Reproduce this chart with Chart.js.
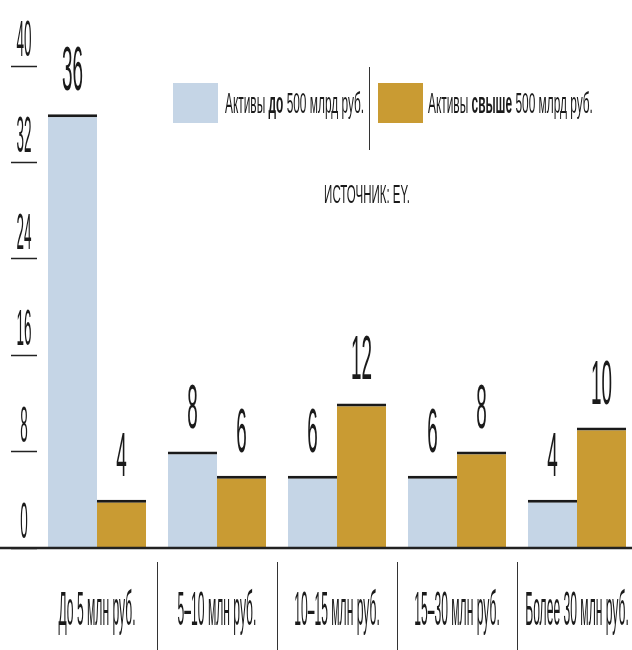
<!DOCTYPE html>
<html>
<head>
<meta charset="utf-8">
<script src="https://cdn.jsdelivr.net/npm/chart.js@4"></script>
<style>
  html, body { margin: 0; padding: 0; overflow: hidden; background: #fff; }
  #wrap { width: 640px; height: 650px; }
</style>
</head>
<body>
<div id="wrap"><canvas id="chart"></canvas></div>
<script>
const categories = ['До 5 млн руб.', '5–10 млн руб.', '10–15 млн руб.', '15–30 млн руб.', 'Более 30 млн руб.'];
const smallBanks = [36, 8, 6, 6, 4];
const bigBanks = [4, 6, 12, 8, 10];
const yTicks = [0, 8, 16, 24, 32, 40];
const seriesNames = ['Активы до 500 млрд руб.', 'Активы свыше 500 млрд руб.'];

const BLUE = '#c5d5e6';
const GOLD = '#c99b33';
const INK = '#1a1a1a';
const FONT = '"Liberation Sans", Arial, sans-serif';

// condensed text: draw normally then squeeze horizontally
function squeezed(ctx, s, x, y, size, sx, align, weight) {
    ctx.save();
    ctx.font = (weight || 'normal') + ' ' + size + 'px ' + FONT;
    ctx.fillStyle = INK;
    ctx.textBaseline = 'alphabetic';
    ctx.textAlign = align || 'center';
    ctx.translate(x, y);
    ctx.scale(sx, 1);
    ctx.fillText(s, 0, 0);
    const w = ctx.measureText(s).width * sx;
    ctx.restore();
    return w;
}

function runs(ctx, parts, x, y, size, sx) {
    let cx = x;
    parts.forEach(p => {
        cx += squeezed(ctx, p[0], cx, y, size, sx, 'left', p[1] ? 'bold' : 'normal');
    });
}

const decor = {
    id: 'decor',
    afterDatasetsDraw(chart) {
        const ctx = chart.ctx;
        // values above bars
        chart.data.datasets.forEach((ds, i) => {
            chart.getDatasetMeta(i).data.forEach((bar, j) => {
                squeezed(ctx, String(ds.data[j]), bar.x, bar.y - 24, 63, 0.3, 'center');
            });
        });
    },
    afterDraw(chart) {
        const ctx = chart.ctx;
        const x = chart.scales.x;
        const y = chart.scales.y;
        const base = y.getPixelForValue(0);

        // y tick labels
        yTicks.forEach(v => {
            squeezed(ctx, String(v), 24, y.getPixelForValue(v) - 10, 50, 0.27, 'center');
        });

        // baseline
        ctx.save();
        ctx.strokeStyle = '#222';
        ctx.lineWidth = 2.5;
        ctx.beginPath();
        ctx.moveTo(0, base);
        ctx.lineTo(chart.width, base);
        ctx.stroke();

        // separators between categories
        ctx.lineWidth = 1;
        ctx.strokeStyle = '#333';
        for (let i = 0; i < categories.length - 1; i++) {
            const sx = Math.round((x.getPixelForValue(i) + x.getPixelForValue(i + 1)) / 2) + 0.5;
            ctx.beginPath();
            ctx.moveTo(sx, base + 14);
            ctx.lineTo(sx, chart.height);
            ctx.stroke();
        }
        ctx.restore();

        // category labels
        categories.forEach((c, i) => {
            squeezed(ctx, c, x.getPixelForValue(i), 625, 49, 0.247, 'center');
        });

        // legend
        ctx.save();
        ctx.fillStyle = BLUE;
        ctx.fillRect(173, 83, 45, 40);
        ctx.fillStyle = GOLD;
        ctx.fillRect(378, 83, 45, 40);
        ctx.strokeStyle = '#333';
        ctx.lineWidth = 1;
        ctx.beginPath();
        ctx.moveTo(369.5, 67);
        ctx.lineTo(369.5, 150);
        ctx.stroke();
        ctx.restore();
        runs(ctx, [['Активы ', false], ['до', true], [' 500 млрд руб.', false]], 225, 113, 29, 0.41);
        runs(ctx, [['Активы ', false], ['свыше', true], [' 500 млрд руб.', false]], 428, 113, 29, 0.41);

        // source
        squeezed(ctx, 'ИСТОЧНИК: EY.', 367, 203, 25, 0.46, 'center');
    }
};

new Chart(document.getElementById('chart'), {
    type: 'bar',
    data: {
        labels: categories,
        datasets: [{
            label: seriesNames[0],
            data: smallBanks,
            backgroundColor: BLUE,
            borderColor: INK,
            borderWidth: { top: 3, right: 0, bottom: 0, left: 0 },
            borderSkipped: 'start'
        }, {
            label: seriesNames[1],
            data: bigBanks,
            backgroundColor: GOLD,
            borderColor: INK,
            borderWidth: { top: 3, right: 0, bottom: 0, left: 0 },
            borderSkipped: 'start'
        }]
    },
    plugins: [decor],
    options: {
        responsive: true,
        maintainAspectRatio: false,
        animation: false,
        layout: { padding: { top: 66, bottom: 102, left: 0, right: 3 } },
        datasets: { bar: { categoryPercentage: 0.818, barPercentage: 1 } },
        plugins: {
            legend: { display: false },
            tooltip: { enabled: false }
        },
        scales: {
            x: { display: false },
            y: {
                min: 0,
                max: 40,
                afterBuildTicks: s => { s.ticks = yTicks.map(v => ({ value: v })); },
                afterFit: s => { s.width = 37; },
                ticks: { display: false },
                border: { display: false },
                grid: {
                    drawOnChartArea: false,
                    drawTicks: true,
                    tickLength: 26,
                    tickColor: '#222',
                    tickWidth: 1.5
                }
            }
        }
    }
});
</script>
</body>
</html>
